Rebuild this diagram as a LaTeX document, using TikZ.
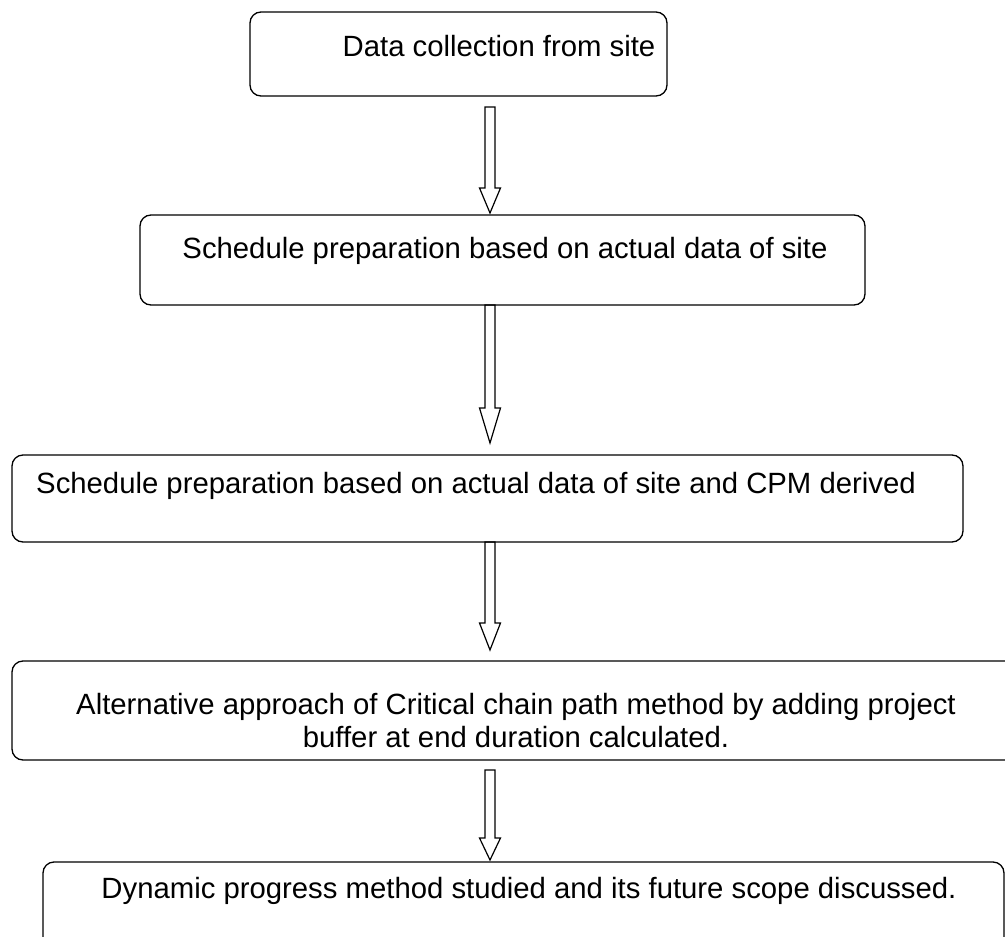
\documentclass[tikz,border=0pt]{standalone}
\usepackage{fontspec}
\setmainfont{Liberation Sans}
\usetikzlibrary{calc}

\newcommand{\hollowarrow}[3]{\draw [hollow] ($(#1)+(-5,0)$) -- ($(#2)+(-5,-#3)$) -- ($(#2)+(-10.5,-#3)$) -- (#2) -- ($(#2)+(10.5,-#3)$) -- ($(#2)+(5,-#3)$) -- ($(#1)+(5,0)$) -- cycle;}

\begin{document}
\begin{tikzpicture}[x=1pt,y=-1pt,
  stage/.style={draw, rounded corners=11pt, line width=1.3pt, inner sep=0pt},
  hollow/.style={draw, line width=1.2pt, line join=miter},
  lbl/.style={font=\fontsize{29.3}{35}\selectfont, inner sep=0pt, anchor=base}]
\useasboundingbox (0,0) rectangle (1005,937);
\clip (0,0) rectangle (1005,937);

\node [stage, minimum width=417, minimum height=84] (b1) at (458.5,54) {};
\node [stage, minimum width=725, minimum height=90] (b2) at (502.5,260) {};
\node [stage, minimum width=951, minimum height=87] (b3) at (487.5,498.5) {};
\node [stage, minimum width=1008, minimum height=99] (b4) at (516,710.5) {};
\node [stage, minimum width=961, minimum height=98] (b5) at (523.5,911) {};

\node [lbl] (t1) at (499,56) {Data collection from site};
\node [lbl] (t2) at (505,258) {Schedule preparation based on actual data of site};
\node [lbl] (t3) at (476,493) {Schedule preparation based on actual data of site and CPM derived};
\node [lbl] (t4a) at (516,714) {Alternative approach of Critical chain path method by adding project};
\node [lbl] (t4b) at (516,747) {buffer at end duration calculated.};
\node [lbl] (t5) at (529,898) {Dynamic progress method studied and its future scope discussed.};

\coordinate (a1s) at (490,107); \coordinate (a1e) at (490,213);
\coordinate (a2s) at (490,305); \coordinate (a2e) at (490,443);
\coordinate (a3s) at (490,542); \coordinate (a3e) at (490,650);
\coordinate (a4s) at (490,770); \coordinate (a4e) at (490,860);

\hollowarrow{a1s}{a1e}{25}
\hollowarrow{a2s}{a2e}{35}
\hollowarrow{a3s}{a3e}{27}
\hollowarrow{a4s}{a4e}{22}

\end{tikzpicture}
\end{document}
